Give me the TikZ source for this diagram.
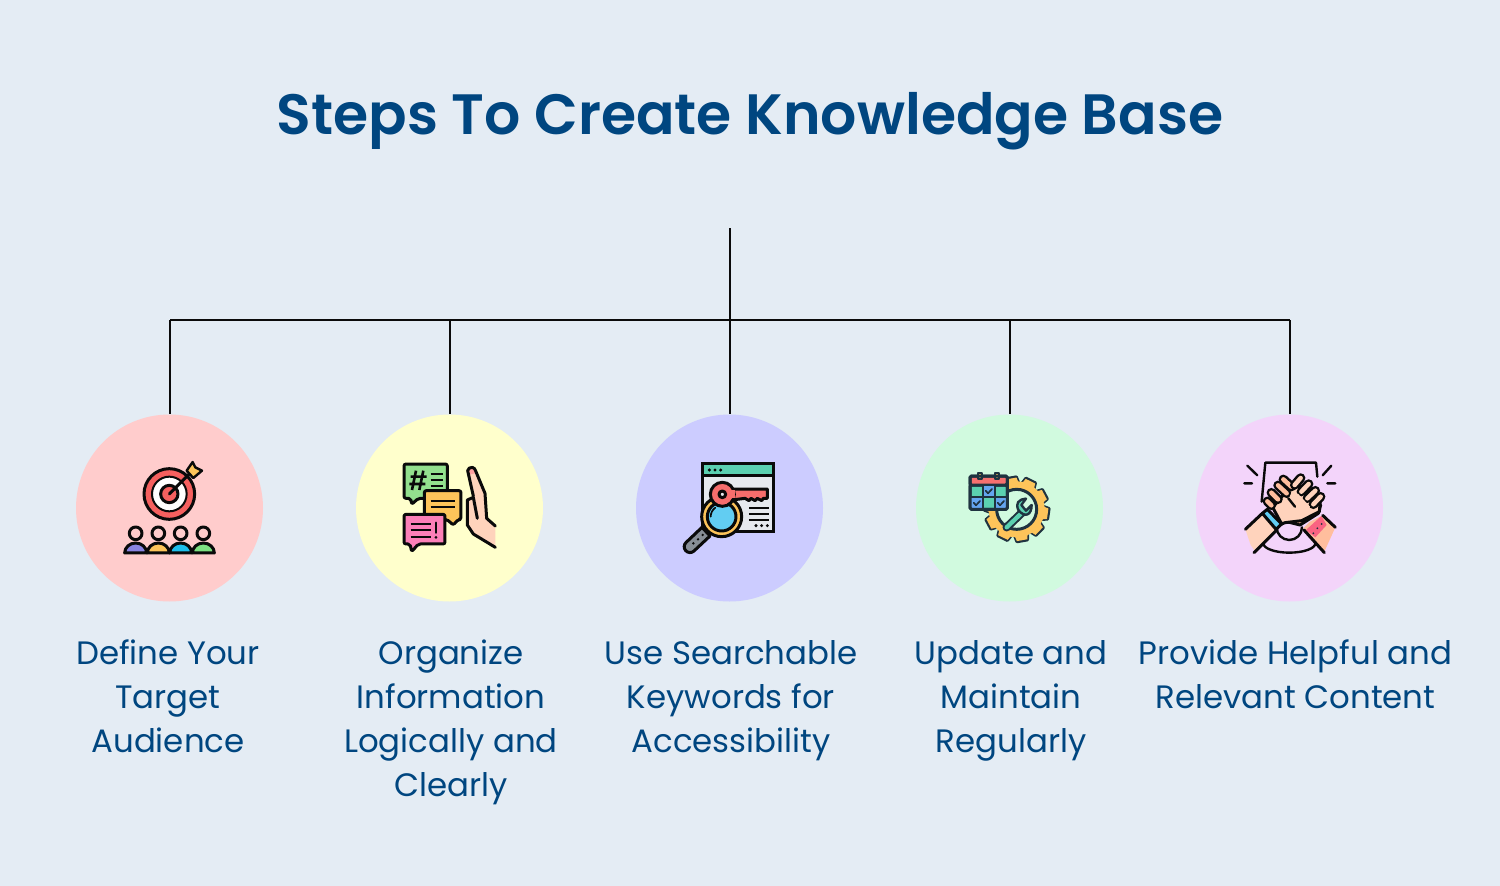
\documentclass[tikz,border=0pt]{standalone}
\usepackage{fontspec}
\setmainfont{Poppins}
\newfontfamily\titlefont{Poppins SemiBold}
\definecolor{bgc}{HTML}{E4ECF4}
\definecolor{ink}{HTML}{004680}
\definecolor{ol}{HTML}{0A0A0A}
\definecolor{navy}{HTML}{1F3340}
\definecolor{ored}{HTML}{F5605F}
\definecolor{oyel}{HTML}{FDC45A}
\definecolor{ogrn}{HTML}{93E08E}
\definecolor{opnk}{HTML}{FC7FB8}
\definecolor{oskn}{HTML}{FFD3BC}
\definecolor{odsk}{HTML}{FFBE9D}
\definecolor{otel}{HTML}{5BD0B0}
\definecolor{oblu}{HTML}{62CDF2}
\definecolor{cA}{HTML}{FFCCCC}
\definecolor{cB}{HTML}{FFFFCC}
\definecolor{cC}{HTML}{CCCCFF}
\definecolor{cD}{HTML}{D1FADF}
\definecolor{cE}{HTML}{F3D4FA}
\definecolor{pPur}{HTML}{8984E2}
\definecolor{pBlu}{HTML}{1EBEEB}
\definecolor{pGrn}{HTML}{7DE182}
\definecolor{nailp}{HTML}{FFA0A0}
\definecolor{winc}{HTML}{E6E9EE}
\definecolor{hand}{HTML}{878E96}
\definecolor{calb}{HTML}{64A5F0}
\definecolor{band}{HTML}{FA6482}
\tikzset{
 dot/.style={circle,minimum size=187pt,inner sep=0pt,draw=none},
 label/.style={anchor=north,inner sep=0pt,align=center,text=ink,font=\fontsize{32.4}{44}\selectfont},
 wire/.style={draw=ol,line width=2pt},
 ic/.style={draw=ol,line width=3pt,line join=round,line cap=round},
 icn/.style={draw=navy,line width=3pt,line join=round,line cap=round},
}
\newcommand{\fl}{\rule{0pt}{26pt}}
\begin{document}
\begin{tikzpicture}[x=1pt,y=-1pt]
\useasboundingbox[fill=bgc] (0,0) rectangle (1500,886);
\node[text=ink,inner sep=0pt,font=\fontsize{56.9}{60}\selectfont\titlefont] (title) at (750,121) {Steps To Create Knowledge Base};
\node[dot,fill=cA] (c1) at (169.5,508) {};
\node[dot,fill=cB] (c2) at (449.5,508) {};
\node[dot,fill=cC] (c3) at (729.5,508) {};
\node[dot,fill=cD] (c4) at (1009.5,508) {};
\node[dot,fill=cE] (c5) at (1289.5,508) {};
\coordinate (top) at (730.3,228);
\coordinate (hub) at (730.3,320.3);
\coordinate (b1) at (170.3,320.3);
\coordinate (b2) at (450.3,320.3);
\coordinate (b4) at (1010.3,320.3);
\coordinate (b5) at (1290.3,320.3);
\draw[wire] (top) -- (hub);
\draw[wire] (b1) -- (b5);
\draw[wire] (b1) -- (c1.north -| b1);
\draw[wire] (b2) -- (c2.north -| b2);
\draw[wire] (hub) -- (c3.north -| hub);
\draw[wire] (b4) -- (c4.north -| b4);
\draw[wire] (b5) -- (c5.north -| b5);
\node[label] (t1) at (168,638) {\fl Define Your\\Target\\Audience};
\node[label] (t2) at (451,638) {\fl Organize\\Information\\Logically and\\Clearly};
\node[label] (t3) at (731,638) {\fl Use Searchable\\Keywords for\\Accessibility};
\node[label] (t4) at (1011,638) {\fl Update and\\Maintain\\Regularly};
\node[label] (t5) at (1295.5,638) {\fl Provide Helpful and\\Relevant Content};

% icon 1 target and audience
\begin{scope}[shift={(110,450)},x=0.3333pt,y=-0.3333pt]
 \draw[ic,fill=oyel,line width=2.4pt] (230,62) -- (248,36) -- (256,52) -- (276,62) -- (250,84) -- cycle;
 \draw[ic,fill=ored] (178,132) circle (76);
 \fill[white] (178,132) circle (52);
 \draw[ol,line width=2pt] (178,132) circle (52);
 \draw[ic,fill=ored] (178,132) circle (26);
 \draw[ic] (178,132) -- (238,72);
 \foreach \x/\c in {77/pPur,145/oyel,212/pBlu,280/pGrn}{
  \draw[ic,fill=\c] (\x-33,309) arc (-180:0:33 and 30) -- cycle;
  \draw[ic,fill=cA] (\x,250) circle (19);
 }
\end{scope}

% icon 2 bubbles and hand
\begin{scope}[shift={(390,450)},x=0.3333pt,y=-0.3333pt]
 \draw[ic,fill=ogrn,rounded corners=2pt] (42,42) -- (172,42) -- (172,145) -- (85,145) -- (65,163) -- (62,145) -- (42,145) -- cycle;
 \draw[ol,line width=2.6pt] (78,62) -- (66,120) (100,62) -- (88,120) (62,80) -- (110,80) (58,102) -- (106,102);
 \draw[ol,line width=2pt] (122,72) -- (158,72) (122,90) -- (158,90) (122,108) -- (158,108);
 \draw[ic,fill=oyel,rounded corners=2pt] (103,122) -- (213,122) -- (213,208) -- (205,208) -- (190,225) -- (170,208) -- (103,208) -- cycle;
 \draw[ol,line width=2pt] (122,152) -- (196,152) (122,172) -- (196,172);
 \draw[ic,fill=opnk,rounded corners=2pt] (42,193) -- (165,193) -- (165,282) -- (85,282) -- (65,305) -- (60,282) -- (42,282) -- cycle;
 \draw[ol,line width=2pt] (62,222) -- (122,222) (62,240) -- (122,240) (62,260) -- (122,260);
 \draw[ol,line width=2.4pt,line cap=round] (138,218) -- (138,248);
 \fill[ol] (138,262) circle (4.5);
 \fill[oskn] (232,60) -- (250,50) -- (285,130) -- (290,205) -- (316,230) -- (316,292) -- (250,250) -- (232,225) -- (232,145) -- (250,138) -- cycle;
 \fill[nailp] (233,62) arc (-170:-10:12) -- (256,70) -- (238,74) -- cycle;
 \draw[ic] (316,292) -- (250,252) -- (232,225) -- (232,150) -- (250,142) -- (262,205);
 \draw[ic] (250,138) -- (233,62) arc (-170:-10:12) -- (285,130) -- (290,205) -- (316,228);
\end{scope}

% icon 3 key and magnifier
\begin{scope}[shift={(670,450)},x=0.3333pt,y=-0.3333pt]
 \draw[ic,fill=winc,line cap=butt,line join=miter] (98,40) rectangle (312,245);
 \draw[ic,fill=otel,line cap=butt,line join=miter] (98,40) rectangle (312,76);
 \foreach \x in {118,135,152}{\fill[ol] (\x,60) circle (5);}
 \foreach \x in {258,275,292}{\fill[ol] (\x,227) circle (5);}
 \draw[ol,line width=2.2pt] (237,173) -- (297,173) (237,191) -- (297,191) (237,210) -- (297,210);
 \draw[ic,fill=hand] (96,232) -- (120,258) -- (72,303) arc (47:227:17.5) -- cycle;
 \fill[ol] (70,280) circle (4) (84,268) circle (4) (98,255) circle (4);
 \draw[ic,fill=oyel] (155,200) circle (60);
 \draw[ic,fill=oblu] (155,200) circle (43);
 \draw[ol,line width=1.7pt,line cap=round] (122,200) arc (180:235:33);
 \draw[ic,fill=ored!92!white] (185,117) -- (292,117) -- (292,145) -- (280,145) -- (275,152) -- (262,145) -- (255,152) -- (243,145) -- (237,152) -- (225,145) -- (185,150) -- cycle;
 \draw[ic,fill=ored!92!white] (157,133) circle (36);
 \draw[ic,fill=winc] (157,133) circle (10);
 \fill[ored!92!white] (182,121) rectangle (195,143);
\end{scope}

% icon 4 calendar and gear
\begin{scope}[shift={(950,450)},x=0.3333pt,y=-0.3333pt]
 \foreach \a in {0,36,...,324}{
  \draw[icn,fill=oyel,rotate around={\a+10:(200,178)}] (184,82) -- (216,82) -- (222,110) -- (178,110) -- cycle;
 }
 \fill[oyel] (200,178) circle (84);
 \foreach \a in {0,36,...,324}{
  \fill[oyel,rotate around={\a+10:(200,178)}] (184,84) -- (216,84) -- (222,112) -- (178,112) -- cycle;
 }
 \draw[icn,fill=cD] (200,178) circle (60);
 \draw[navy,line width=8.3pt,line cap=round] (170,232) -- (216,188);
 \draw[otel,line width=4.3pt,line cap=round] (170,232) -- (216,188);
 \draw[icn,fill=otel,line width=2.4pt] (205,180) .. controls (196,160) and (205,148) .. (228,146) -- (214,165) -- (228,182) -- (245,165) .. controls (245,195) and (225,205) .. (205,180) -- cycle;
 \draw[icn,fill=otel,rounded corners=1.5pt] (60,105) rectangle (172,178);
 \draw[icn,fill=ored!90!white,rounded corners=1.5pt] (60,78) rectangle (172,105);
 \draw[icn,fill=oyel,line width=2pt] (85,68) rectangle (96,88);
 \draw[icn,fill=oyel,line width=2pt] (136,68) rectangle (147,88);
 \fill[calb] (98,105) rectangle (135,142) (62,142) rectangle (98,176) (135,142) rectangle (170,176);
 \draw[navy,line width=1.7pt] (60,105) -- (172,105) (60,142) -- (172,142) (98,105) -- (98,178) (135,105) -- (135,178);
 \draw[icn,rounded corners=1.5pt] (60,78) rectangle (172,178);
 \draw[navy,line width=1.7pt,line cap=round,line join=round] (107,122) -- (114,130) -- (126,117) (71,158) -- (78,166) -- (90,153) (143,158) -- (150,166) -- (162,153);
\end{scope}

% icon 5 clasped hands
\begin{scope}[shift={(1230,450)},x=0.3333pt,y=-0.3333pt]
 \draw[ic,line width=2.4pt] (52,47) -- (82,76) (43,100) -- (66,100) (304,47) -- (278,76) (292,100) -- (316,100);
 \draw[ic,line width=2.4pt] (95,155) -- (106,38) -- (258,38) -- (262,80);
 \draw[ic,line width=2.4pt] (140,232) arc (180:0:38) (100,280) arc (180:0:78 and 28);
 \fill[odsk] (240,215) -- (280,195) -- (316,232) -- (283,305) -- (220,235) -- cycle;
 \fill[band] (228,240) -- (274,198) -- (290,225) -- (256,262) -- cycle;
 \fill[navy] (262,235) circle (3) (275,222) circle (3) (250,250) circle (3);
 \fill[oskn] (46,238) -- (97,190) -- (148,232) -- (78,308) -- (62,285) -- cycle;
 \draw[ic] (46,238) -- (97,190) (140,240) -- (72,308);
 \draw[ic,fill=oblu] (97,190) -- (112,178) -- (155,222) -- (138,238) -- cycle;
 \draw[ic,fill=odsk] (170,215) -- (210,225) -- (265,190) -- (272,165) -- (230,150) -- (170,175) -- cycle;
 \draw[ic] (278,196) -- (316,232) (222,240) -- (283,308);
 \draw[ic,fill=oskn] (128,172) -- (190,100) -- (272,140) -- (268,185) -- (215,212) -- (165,218) -- (155,222) -- cycle;
 \foreach \a/\b/\c/\d in {112/154/124/166,124/128/144/148,144/106/170/130,160/88/184/110}{
  \draw[ol,line width=9.5pt,line cap=round] (\a,\b) -- (\c,\d);
  \draw[odsk,line width=4.5pt,line cap=round] (\a,\b) -- (\c,\d);
 }
 \foreach \a/\b/\c/\d in {194/105/212/84,214/125/236/102,232/145/256/122,250/163/272/140}{
  \draw[ol,line width=9.5pt,line cap=round] (\a,\b) -- (\c,\d);
  \draw[oskn,line width=4.5pt,line cap=round] (\a,\b) -- (\c,\d);
 }
 \fill[oskn] (185,125) -- (205,132) -- (240,170) -- (225,190) -- (170,165) -- cycle;
 \draw[ic,line width=2.4pt] (175,145) -- (195,170);
\end{scope}
\end{tikzpicture}
\end{document}
